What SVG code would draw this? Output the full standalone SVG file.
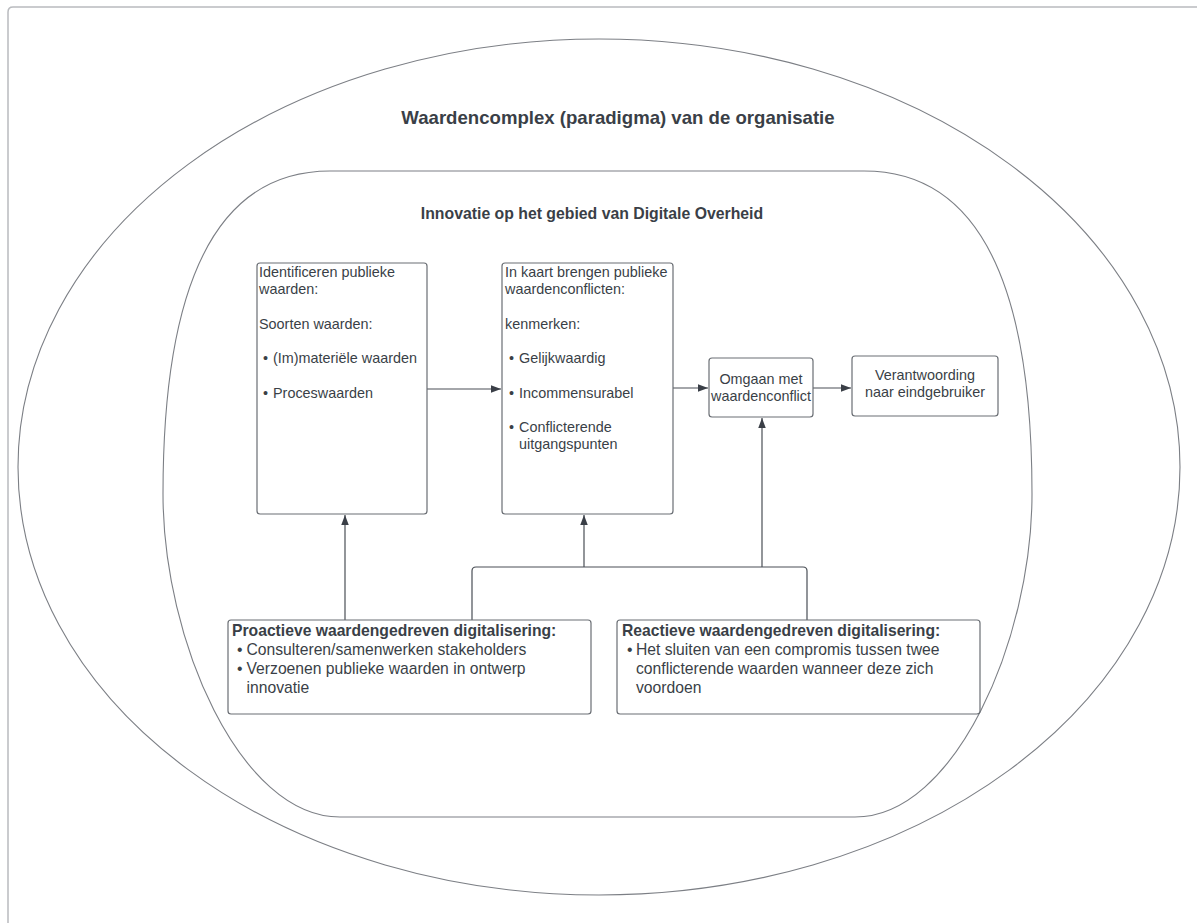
<svg xmlns="http://www.w3.org/2000/svg" width="1197" height="923" viewBox="0 0 1197 923">
<style>
  text { font-family: "Liberation Sans", Arial, sans-serif; fill: #3a3f47; }
  .t14 { font-size: 14.4px; }
  .t16 { font-size: 15.7px; }
  .b { font-weight: bold; }
  .mid { text-anchor: middle; }
  .box { fill: #ffffff; stroke: #6a6e74; stroke-width: 1.2; }
  .shape { fill: none; stroke: #7c7f85; stroke-width: 1.1; }
  .frame { fill: none; stroke: #b9bbbf; stroke-width: 1.5; }
  .conn { fill: none; stroke: #4a4f56; stroke-width: 1.2; }
</style>
<defs>
  <marker id="arr" markerUnits="userSpaceOnUse" markerWidth="11" markerHeight="8" refX="10" refY="3.75" orient="auto">
    <path d="M0,0 L10,3.75 L0,7.5 Z" fill="#3a3f47"/>
  </marker>
</defs>
<rect width="1197" height="923" fill="#ffffff"/>
<path class="frame" d="M8,923 V12 Q8,7 13,7 H1197"/>

<g id="outer">
  <ellipse class="shape" cx="599" cy="467" rx="581" ry="428"/>
  <text class="b mid" x="618" y="124" style="font-size:18.6px">Waardencomplex (paradigma) van de organisatie</text>
</g>

<g id="inner">
  <path class="shape" d="M330,171 H864 Q1032,171 1032,494 C1032,640 955,817 855,817 H340 C240,817 163,640 163,494 Q163,171 330,171 Z"/>
  <text class="b mid" x="592" y="219" style="font-size:15.8px">Innovatie op het gebied van Digitale Overheid</text>
</g>

<g id="connectors">
  <line class="conn" x1="427" y1="389" x2="501" y2="389" marker-end="url(#arr)"/>
  <line class="conn" x1="673" y1="388" x2="708" y2="388" marker-end="url(#arr)"/>
  <line class="conn" x1="813" y1="388" x2="851" y2="388" marker-end="url(#arr)"/>
  <line class="conn" x1="345" y1="620" x2="345" y2="515" marker-end="url(#arr)"/>
  <path class="conn" d="M472,620 V571 Q472,567 476,567 H803 Q807,567 807,571 V620"/>
  <line class="conn" x1="584" y1="567" x2="584" y2="515" marker-end="url(#arr)"/>
  <line class="conn" x1="762" y1="567" x2="762" y2="418" marker-end="url(#arr)"/>
</g>

<g id="identificeren">
  <rect class="box" x="257" y="263" width="170" height="251" rx="3"/>
  <text class="t14"><tspan x="259" y="277">Identificeren publieke</tspan><tspan x="259" y="294">waarden:</tspan><tspan x="259" y="329">Soorten waarden:</tspan></text>
  <text class="t14"><tspan x="263" y="363">•</tspan><tspan x="273" y="363">(Im)materiële waarden</tspan><tspan x="263" y="398">•</tspan><tspan x="273" y="398">Proceswaarden</tspan></text>
</g>

<g id="in-kaart">
  <rect class="box" x="502" y="263" width="171" height="251" rx="3"/>
  <text class="t14"><tspan x="505" y="277">In kaart brengen publieke</tspan><tspan x="505" y="294">waardenconflicten:</tspan><tspan x="505" y="329">kenmerken:</tspan></text>
  <text class="t14"><tspan x="509" y="363">•</tspan><tspan x="519" y="363">Gelijkwaardig</tspan><tspan x="509" y="398">•</tspan><tspan x="519" y="398">Incommensurabel</tspan><tspan x="509" y="432">•</tspan><tspan x="519" y="432">Conflicterende</tspan><tspan x="519" y="449">uitgangspunten</tspan></text>
</g>

<g id="omgaan">
  <rect class="box" x="709" y="358" width="104" height="59" rx="3"/>
  <text class="t14 mid"><tspan x="761" y="384">Omgaan met</tspan><tspan x="761" y="401">waardenconflict</tspan></text>
</g>

<g id="verantwoording">
  <rect class="box" x="852" y="356" width="146" height="60" rx="3"/>
  <text class="t14 mid"><tspan x="925" y="380">Verantwoording</tspan><tspan x="925" y="397">naar eindgebruiker</tspan></text>
</g>

<g id="proactief">
  <rect class="box" x="228" y="620" width="363" height="94" rx="3"/>
  <text class="t16 b" x="232" y="636">Proactieve waardengedreven digitalisering:</text>
  <text class="t16"><tspan x="237" y="655">•</tspan><tspan x="246.5" y="655">Consulteren/samenwerken stakeholders</tspan><tspan x="237" y="674">•</tspan><tspan x="246.5" y="674">Verzoenen publieke waarden in ontwerp</tspan><tspan x="246.5" y="693">innovatie</tspan></text>
</g>

<g id="reactief">
  <rect class="box" x="617" y="620" width="363" height="94" rx="3"/>
  <text class="t16 b" x="622" y="636">Reactieve waardengedreven digitalisering:</text>
  <text class="t16"><tspan x="627" y="655">•</tspan><tspan x="636" y="655">Het sluiten van een compromis tussen twee</tspan><tspan x="636" y="674">conflicterende waarden wanneer deze zich</tspan><tspan x="636" y="693">voordoen</tspan></text>
</g>
</svg>
